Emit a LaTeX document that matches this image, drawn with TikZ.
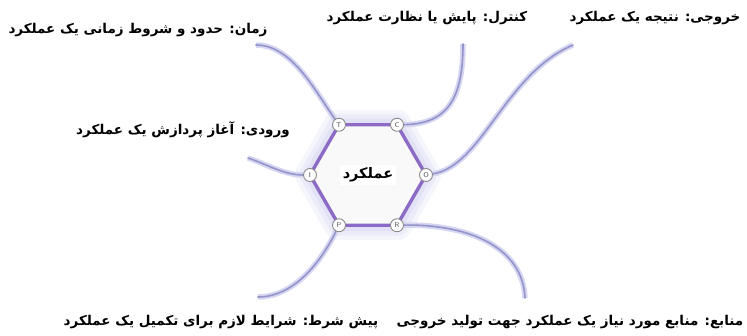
\documentclass[tikz,border=0pt]{standalone}
\usepackage{fontspec}
\usepackage{xcolor}
\usepackage{tikz}
\usetikzlibrary{positioning}
\TeXXeTstate=1
\newfontfamily\arabicfont[Script=Arabic]{DejaVu Sans}
\definecolor{FLine}{HTML}{9494CA}
\definecolor{FGlow}{HTML}{D6D6F2}
\definecolor{FHex}{HTML}{8C6AC6}
\definecolor{FEdge}{HTML}{707070}
\definecolor{FFill}{HTML}{F9F9F9}
\definecolor{FDot}{HTML}{8A8A8A}
\pgfdeclarelayer{back}
\pgfsetlayers{back,main}
\newcommand\hexpath{(T.center) -- (C.center) -- (O.center) -- (R.center) -- (P.center) -- (I.center) -- cycle}
\tikzset{
  vtx/.style={circle,draw=FDot,fill=white,line width=0.9pt,minimum size=13pt,inner sep=0pt,font=\sffamily\fontsize{7}{7}\selectfont,text=FDot!60!black},
  lbl/.style={font=\arabicfont\bfseries\fontsize{13.5}{15}\selectfont,inner sep=1pt},
  wire/.style={FLine,line width=1.6pt,line cap=round,preaction={draw,FGlow,line width=5.5pt}},
}

\begin{document}
\begin{tikzpicture}[x=1pt,y=1pt]
\useasboundingbox (0,0) rectangle (747,336);
\coordinate (ctr) at (368,161);
% hexagon corners
\node[vtx] (T) at ([shift={(120:58)}]ctr) {T};
\node[vtx] (C) at ([shift={(60:58)}]ctr) {C};
\node[vtx] (O) at ([shift={(0:58)}]ctr) {O};
\node[vtx] (R) at ([shift={(-60:58)}]ctr) {R};
\node[vtx] (P) at ([shift={(-120:58)}]ctr) {P};
\node[vtx] (I) at ([shift={(180:58)}]ctr) {I};
\node[fill=white,inner sep=3pt,font=\arabicfont\bfseries\fontsize{14.5}{16}\selectfont] (func) at (ctr) {\beginR عملکرد\endR};
% labels
\node[lbl] (zaman) at (138,306) {\beginR زمان: حدود و شروط زمانی یک عملکرد\endR};
\node[lbl] (control) at (427,318) {\beginR کنترل: پایش یا نظارت عملکرد\endR};
\node[lbl] (output) at (655,318) {\beginR خروجی: نتیجه یک عملکرد\endR};
\node[lbl] (input) at (183,206) {\beginR ورودی: آغاز پردازش یک عملکرد\endR};
\node[lbl] (precond) at (221,14) {\beginR پیش شرط: شرایط لازم برای تکمیل یک عملکرد\endR};
\node[lbl] (resource) at (570,14) {\beginR منابع: منابع مورد نیاز یک عملکرد جهت تولید خروجی\endR};
% free ends
\coordinate (tEnd) at (256,291);
\coordinate (cEnd) at (463,292);
\coordinate (oEnd) at (573,291);
\coordinate (iEnd) at (248,178);
\coordinate (pEnd) at (258,39);
\coordinate (rEnd) at (525,38);
\begin{pgfonlayer}{back}
\foreach \w/\o in {30/0.25,21/0.3,12/0.45}
  \draw[FGlow,line width=\w pt,line join=round,opacity=\o] \hexpath;
\draw[fill=FFill,draw=FEdge,line width=1pt] \hexpath;
\draw[FHex,line width=3.4pt,scale around={0.965:(ctr)}] \hexpath;
\draw[wire] (T) .. controls (315,245) and (292,291) .. (tEnd);
\draw[wire] (C) .. controls (448,212) and (463,238) .. (cEnd);
\draw[wire] (O) .. controls (482,170) and (505,262) .. (oEnd);
\draw[wire] (I) .. controls (284,161) and (266,172) .. (iEnd);
\draw[wire] (P) .. controls (323,78) and (296,39) .. (pEnd);
\draw[wire] (R) .. controls (470,112) and (523,88) .. (rEnd);
\end{pgfonlayer}
\end{tikzpicture}
\end{document}
